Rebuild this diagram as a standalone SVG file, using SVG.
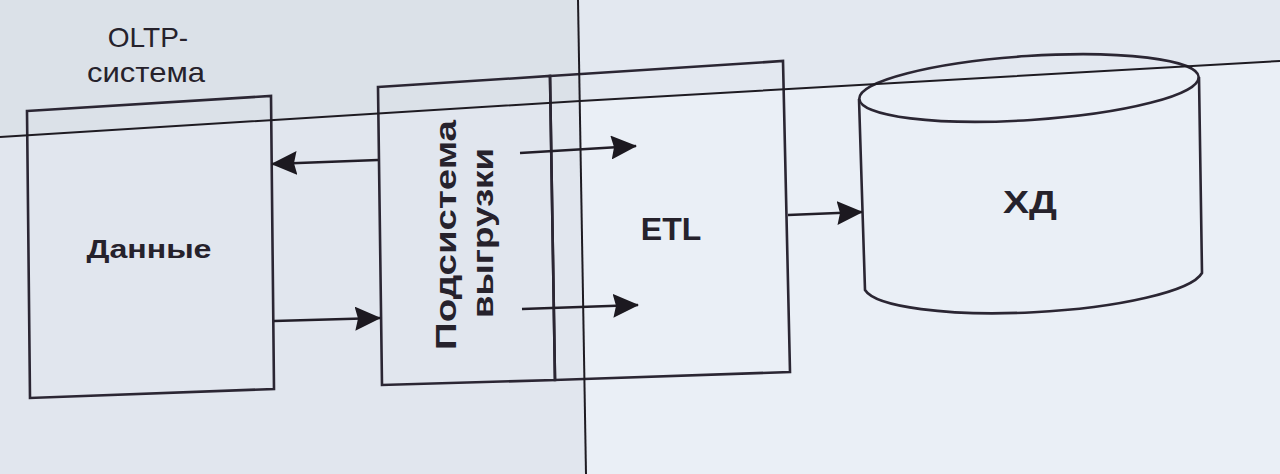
<svg xmlns="http://www.w3.org/2000/svg" width="1280" height="474" viewBox="0 0 1280 474">
<style>
.box{fill:none;stroke:#2b2633;stroke-width:2.6;stroke-linejoin:miter}
.seam{fill:none;stroke:#1e1b22;stroke-width:2}
.conn{stroke:#221e28;stroke-width:2.6;fill:none}
.lbl{font-family:"Liberation Sans",Arial,sans-serif;fill:#26222c}
.b{font-weight:bold}
</style>
<defs>
<marker id="ah" viewBox="0 0 26 24" refX="25" refY="12" markerWidth="26" markerHeight="24" markerUnits="userSpaceOnUse" orient="auto">
<path d="M0,0 L26,12 L0,24 L3,12 z" fill="#1c1920"/>
</marker>
</defs>
<rect x="0" y="0" width="1280" height="474" fill="#e6ebf3"/>
<polygon points="0,0 578,0 580,101 0,137" fill="#dbe1e8"/>
<polygon points="0,137 580,101 586,474 0,474" fill="#e1e6ee"/>
<polygon points="578,0 1280,0 1280,61 580,101" fill="#e3e8f0"/>
<polygon points="580,101 1280,61 1280,474 586,474" fill="#eaeff6"/>

<g id="oltp-data">
<text class="lbl" x="148" y="47" font-size="28" text-anchor="middle">OLTP-</text>
<text class="lbl" x="146" y="82" font-size="28" text-anchor="middle" textLength="118" lengthAdjust="spacingAndGlyphs">система</text>
<polygon class="box" points="27,111 271,96 274,389 30,398"/>
<text class="lbl b" x="149" y="258" font-size="25" text-anchor="middle" textLength="125" lengthAdjust="spacingAndGlyphs">Данные</text>
</g>

<g id="extract-subsystem">
<polygon class="box" points="378,87 550,76 555,380 382,385"/>
<text class="lbl b" transform="translate(456,235) rotate(-90)" font-size="29" text-anchor="middle" textLength="230" lengthAdjust="spacingAndGlyphs">Подсистема</text>
<text class="lbl b" transform="translate(493,233) rotate(-90)" font-size="29" text-anchor="middle" textLength="170" lengthAdjust="spacingAndGlyphs">выгрузки</text>
</g>

<g id="etl">
<polygon class="box" points="550,76 783,61 790,372 555,380"/>
<text class="lbl b" x="671" y="240" font-size="32" text-anchor="middle">ETL</text>
</g>

<g id="dwh">
<path class="box" d="M859,99 L865,290 A170,35 -3 0 0 1202,273 L1199,77"/>
<ellipse class="box" cx="1029" cy="88" rx="170" ry="32" transform="rotate(-3.7 1029 88)"/>
<text class="lbl b" x="1030" y="213" font-size="32" text-anchor="middle" textLength="54" lengthAdjust="spacingAndGlyphs">ХД</text>
</g>

<g id="connectors">
<line class="conn" x1="378" y1="160" x2="272" y2="164" marker-end="url(#ah)"/>
<line class="conn" x1="274" y1="321" x2="380" y2="318" marker-end="url(#ah)"/>
<line class="conn" x1="520" y1="153" x2="636" y2="146" marker-end="url(#ah)"/>
<line class="conn" x1="522" y1="309" x2="638" y2="305" marker-end="url(#ah)"/>
<line class="conn" x1="788" y1="215" x2="862" y2="212" marker-end="url(#ah)"/>
</g>

<g id="screen-seams">
<polyline class="seam" points="0,137 580,101 1280,61"/>
<line class="seam" x1="578" y1="0" x2="586" y2="474"/>
</g>
</svg>
